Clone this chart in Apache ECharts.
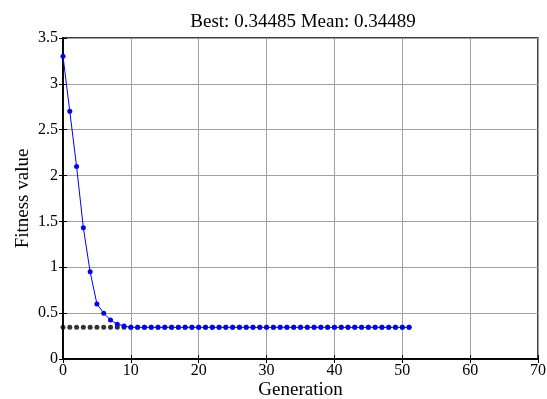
<!DOCTYPE html>
<html>
<head>
<meta charset="utf-8">
<script src="https://cdn.jsdelivr.net/npm/echarts@6/dist/echarts.min.js"></script>
<style>
	html, body { margin: 0; padding: 0; background: #fff; }
	#chart { width: 547px; height: 399px; }
</style>
</head>
<body>
<div id="chart"></div>
<script>
// Generation numbers 0..51
const generations = [
	0, 1, 2, 3, 4, 5, 6, 7, 8, 9, 10, 11, 12, 13, 14, 15, 16, 17, 18, 19, 20, 21, 22, 23, 24, 25,
	26, 27, 28, 29, 30, 31, 32, 33, 34, 35, 36, 37, 38, 39, 40, 41, 42, 43, 44, 45, 46, 47, 48, 49, 50, 51
];

// Mean fitness per generation (blue)
const meanFitness = [
	3.30, 2.70, 2.10, 1.43, 0.95, 0.60, 0.50, 0.425, 0.38, 0.36, 0.345, 0.345, 0.345, 0.345, 0.345, 0.345,
	0.345, 0.345, 0.345, 0.345, 0.345, 0.345, 0.345, 0.345, 0.345, 0.345, 0.345, 0.345, 0.345, 0.345,
	0.345, 0.345, 0.345, 0.345, 0.345, 0.345, 0.345, 0.345, 0.345, 0.345, 0.345, 0.345, 0.345, 0.345,
	0.345, 0.345, 0.345, 0.345, 0.345, 0.345, 0.345, 0.345
];

// Best fitness per generation (black)
const bestFitness = [
	0.345, 0.345, 0.345, 0.345, 0.345, 0.345, 0.345, 0.345, 0.345, 0.345, 0.345, 0.345, 0.345, 0.345,
	0.345, 0.345, 0.345, 0.345, 0.345, 0.345, 0.345, 0.345, 0.345, 0.345, 0.345, 0.345, 0.345, 0.345,
	0.345, 0.345, 0.345, 0.345, 0.345, 0.345, 0.345, 0.345, 0.345, 0.345, 0.345, 0.345, 0.345, 0.345,
	0.345, 0.345, 0.345, 0.345, 0.345, 0.345, 0.345, 0.345, 0.345, 0.345
];

const titleText = 'Best: 0.34485 Mean: 0.34489';
const font = '"Liberation Serif", "Times New Roman", serif';

const chart = echarts.init(document.getElementById('chart'), undefined, { renderer: 'canvas' });

const tickStyle = { show: true, inside: true, length: 4, lineStyle: { color: '#000' } };
const gridLine = { show: true, lineStyle: { color: '#a0a0a0', width: 1 } };

chart.setOption({
	backgroundColor: '#fff',
	animation: false,
	title: {
		text: titleText,
		left: 298,
		top: 8,
		textAlign: 'center',
		textStyle: { fontFamily: font, fontSize: 19, fontWeight: 'normal', color: '#000' },
	},
	grid: {
		left: 63,
		right: 9,
		top: 38,
		bottom: 40,
		outerBoundsMode: 'none',
		containLabel: false,
		show: true,
		borderColor: '#000',
		borderWidth: 1.5,
	},
	xAxis: [
		{
			type: 'value',
			min: 0,
			max: 70,
			interval: 10,
			name: 'Generation',
			nameLocation: 'middle',
			nameGap: 22,
			nameMoveOverlap: false,
			nameTextStyle: { fontFamily: font, fontSize: 19, color: '#000' },
			axisLine: { show: true, lineStyle: { color: '#000', width: 1.5 } },
			axisTick: tickStyle,
			axisLabel: { fontFamily: font, fontSize: 16, color: '#000', margin: 4 },
			splitLine: gridLine,
		},
		{
			type: 'value',
			position: 'top',
			min: 0,
			max: 70,
			interval: 10,
			axisLine: { show: true, lineStyle: { color: '#000', width: 1.5 } },
			axisTick: tickStyle,
			axisLabel: { show: false },
			splitLine: { show: false },
		},
	],
	yAxis: [
		{
			type: 'value',
			min: 0,
			max: 3.5,
			interval: 0.5,
			name: 'Fitness value',
			nameLocation: 'middle',
			nameGap: 30,
			nameMoveOverlap: false,
			nameTextStyle: { fontFamily: font, fontSize: 19, color: '#000' },
			axisLine: { show: true, lineStyle: { color: '#000', width: 1.5 } },
			axisTick: tickStyle,
			axisLabel: { fontFamily: font, fontSize: 16, color: '#000', margin: 5 },
			splitLine: gridLine,
		},
		{
			type: 'value',
			position: 'right',
			min: 0,
			max: 3.5,
			interval: 0.5,
			axisLine: { show: true, lineStyle: { color: '#000', width: 1.5 } },
			axisTick: tickStyle,
			axisLabel: { show: false },
			splitLine: { show: false },
		},
	],
	series: [
		{
			name: 'Best fitness',
			type: 'scatter',
			symbol: 'circle',
			symbolSize: 5,
			itemStyle: { color: '#000' },
			data: generations.map((g, i) => [g, bestFitness[i]]),
			z: 2,
		},
		{
			name: 'Mean fitness',
			type: 'line',
			symbol: 'circle',
			symbolSize: 5,
			showAllSymbol: true,
			lineStyle: { color: '#0000ff', width: 1 },
			itemStyle: { color: '#0000ff' },
			data: generations.map((g, i) => [g, meanFitness[i]]),
			z: 3,
		},
	],
});

window.addEventListener('resize', () => chart.resize());
</script>
</body>
</html>
